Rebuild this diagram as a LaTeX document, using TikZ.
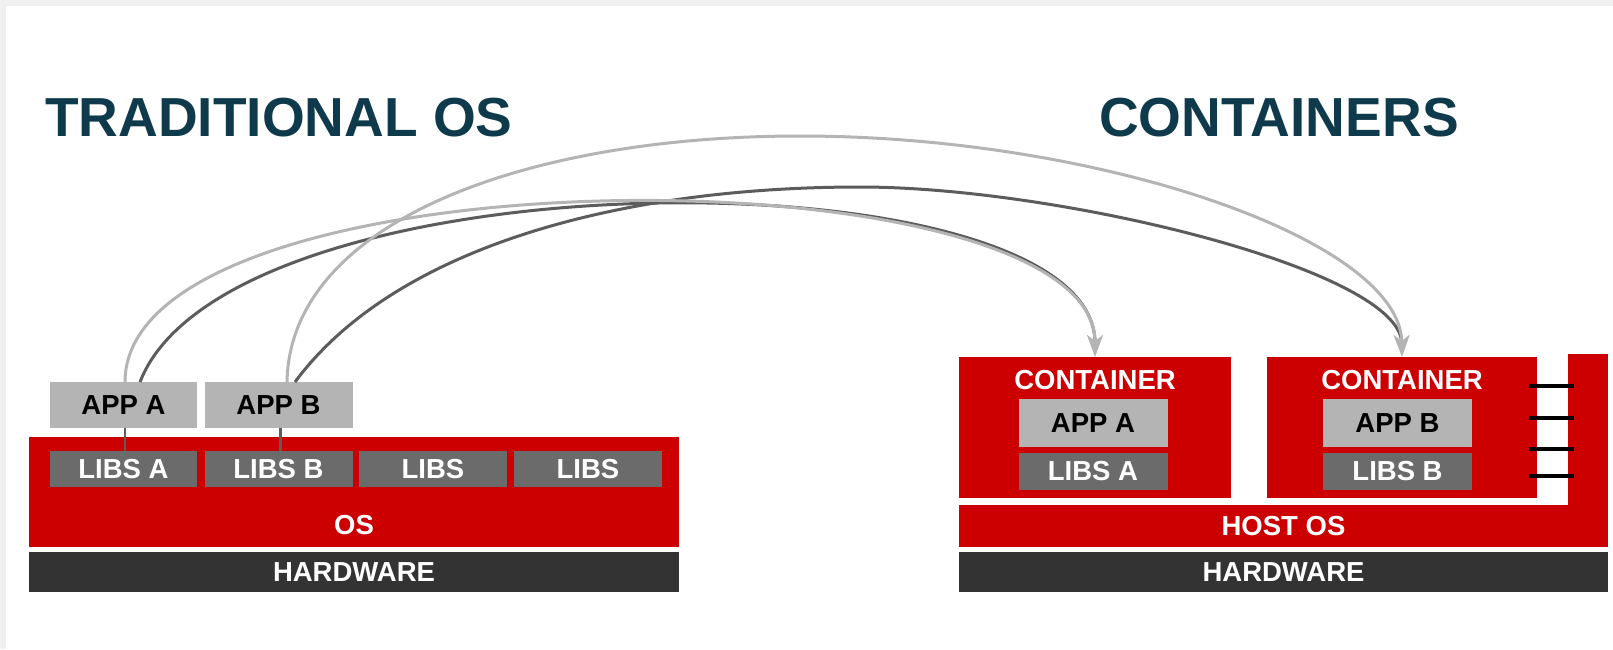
\documentclass[tikz,border=0pt]{standalone}
\usepackage{fontspec}
\setmainfont{Liberation Sans}
\usetikzlibrary{arrows.meta}

\definecolor{rhRed}{HTML}{CC0000}
\definecolor{libGray}{HTML}{6B6B6B}
\definecolor{appGray}{HTML}{B4B4B4}
\definecolor{hwGray}{HTML}{333333}
\definecolor{titleBlue}{HTML}{0E3A4C}
\definecolor{wireLight}{HTML}{B4B4B4}
\definecolor{wireDark}{HTML}{5C5C5C}
\definecolor{pageGray}{HTML}{F0F0F0}

\begin{document}
\begin{tikzpicture}[x=1pt, y=-1pt,
  box/.style={inner sep=0pt, outer sep=0pt, anchor=center},
  labelfont/.style={font=\bfseries\fontsize{27.5}{30}\selectfont},
  redbox/.style={box, fill=rhRed, text=white, labelfont},
  appbox/.style={box, fill=appGray, text=black, labelfont},
  libbox/.style={box, fill=libGray, text=white, labelfont},
  hwbox/.style={box, fill=hwGray, text=white, labelfont},
  boxlabel/.style={inner sep=0pt, text=white, labelfont},
  heading/.style={inner sep=0pt, anchor=base west, text=titleBlue,
    font=\bfseries\fontsize{55}{60}\selectfont},
  lightwire/.style={draw=wireLight, line width=3pt,
    -{Stealth[length=22pt, width=16pt, inset=6pt]}},
  darkwire/.style={draw=wireDark, line width=3pt, shorten >=14pt},
  stub/.style={draw=wireDark, line width=2.2pt},
  rung/.style={draw=black, line width=3.5pt}
]
% page
\useasboundingbox (0,0) rectangle (1613,649);
\fill[pageGray] (0,0) rectangle (1613,649);
\fill[white] (6,6) rectangle (1613,649);

% headings
\node[heading] (tradTitle) at (45,136) {TRADITIONAL OS};
\node[heading] (contTitle) at (1099,136) {CONTAINERS};

% ---- traditional stack ----
\node[redbox, minimum width=650pt, minimum height=110pt] (os) at (354,492) {};
\node[boxlabel] (osLabel) at (354,525) {OS};
\node[hwbox, minimum width=650pt, minimum height=40pt] (hwL) at (354,572) {HARDWARE};

\node[appbox, minimum width=147pt, minimum height=46pt] (appA) at (123.5,405) {APP A};
\node[appbox, minimum width=148pt, minimum height=46pt] (appB) at (278.5,405) {APP B};

\node[libbox, minimum width=147pt, minimum height=36pt] (libA) at (123.5,469) {LIBS A};
\node[libbox, minimum width=148pt, minimum height=36pt] (libB) at (278.5,469) {LIBS B};
\node[libbox, minimum width=148pt, minimum height=36pt] (libC) at (433,469) {LIBS};
\node[libbox, minimum width=148pt, minimum height=36pt] (libD) at (588,469) {LIBS};

\draw[stub] ([xshift=1.5pt]appA.south) -- ([xshift=1.5pt]libA.north);
\draw[stub] ([xshift=2pt]appB.south) -- ([xshift=2pt]libB.north);

% ---- container stack ----
\node[redbox, minimum width=40pt, minimum height=156pt] (sideBar) at (1588,432) {};
\node[redbox, minimum width=649pt, minimum height=42pt] (host) at (1283.5,526) {HOST OS};
\node[hwbox, minimum width=649pt, minimum height=40pt] (hwR) at (1283.5,572) {HARDWARE};

\node[redbox, minimum width=272pt, minimum height=141pt] (c1) at (1095,427.5) {};
\node[redbox, minimum width=270pt, minimum height=141pt] (c2) at (1402,427.5) {};
\node[boxlabel] (c1Label) at (1095,380.5) {CONTAINER};
\node[boxlabel] (c2Label) at (1402,380.5) {CONTAINER};

\node[appbox, minimum width=149pt, minimum height=48pt] (cAppA) at (1093,423) {APP A};
\node[libbox, minimum width=149pt, minimum height=37pt] (cLibA) at (1093,471.5) {LIBS A};
\node[appbox, minimum width=149pt, minimum height=48pt] (cAppB) at (1397.5,423) {APP B};
\node[libbox, minimum width=149pt, minimum height=37pt] (cLibB) at (1397.5,471.5) {LIBS B};

% ladder between container and side bar
\foreach \yy in {386,418,449,476}
  \draw[rung] ([xshift=-8pt]c2.east |- 0,\yy) -- ([xshift=6pt]sideBar.west |- 0,\yy);

% ---- migration wires ----
\coordinate (peakDB) at (860,187);
\coordinate (peakLB) at (800,136);

\draw[darkwire] ([xshift=16.5pt]appA.north) .. controls +(90,-232) and +(0,-207) .. (c1.north);
\draw[darkwire] ([xshift=16.5pt]appB.north)
  .. controls +(100,-135) and +(-240,0) .. (peakDB)
  .. controls +(200,0) and +(-2,-87) .. (c2.north);

\draw[lightwire] ([xshift=1.5pt]appA.north) .. controls +(0,-235) and +(0,-210) .. (c1.north);
\draw[lightwire] ([xshift=8.5pt]appB.north)
  .. controls +(3,-162) and +(-270,0) .. (peakLB)
  .. controls +(300,0) and +(-2,-117) .. (c2.north);
\end{tikzpicture}
\end{document}
